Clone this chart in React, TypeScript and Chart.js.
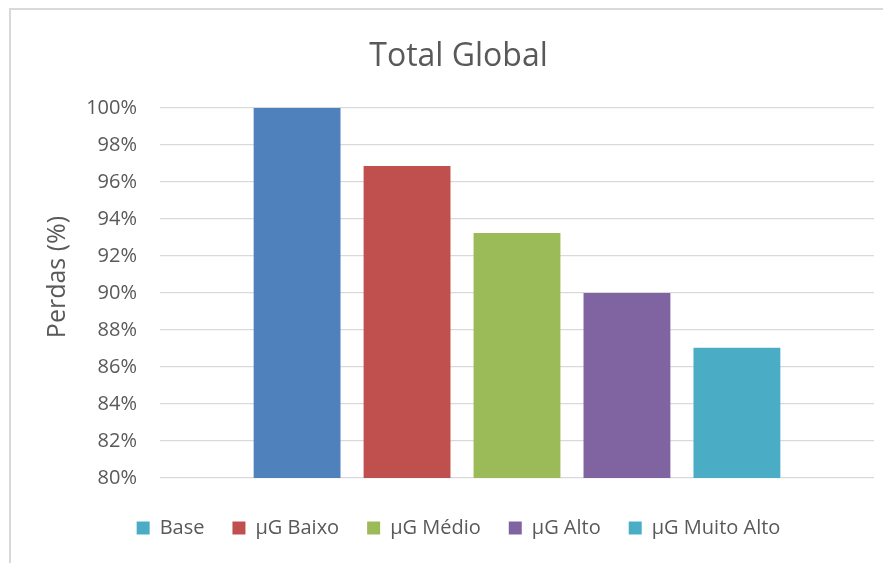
import React, { useEffect, useRef } from "react";
import { Chart, registerables } from "chart.js";

Chart.register(...registerables);

const categories = [""];
const seriesNames = ["Base", "µG Baixo", "µG Médio", "µG Alto", "µG Muito Alto"];
const seriesValues = [100, 96.86, 93.24, 90.0, 87.04];
const barColors = ["#4F81BD", "#C0504D", "#9BBB59", "#8064A2", "#4BACC6"];
const legendColors = ["#4BACC6", "#C0504D", "#9BBB59", "#8064A2", "#4BACC6"];
const yMin = 80;
const yMax = 100;
const yStep = 2;
const yTitle = "Perdas (%)";

const FONT = "'Open Sans', sans-serif";
const TEXT = "#595959";

const yTitlePlugin = {
  id: "yTitlePlugin",
  afterDraw(chart: any) {
    const { ctx, chartArea, scales } = chart;
    ctx.save();
    ctx.translate(scales.y.left + 15, (chartArea.top + chartArea.bottom) / 2 - 16);
    ctx.rotate(-Math.PI / 2);
    ctx.textAlign = "center";
    ctx.textBaseline = "middle";
    ctx.font = `25px ${FONT}`;
    ctx.fillStyle = TEXT;
    ctx.fillText(yTitle, 0, 0);
    ctx.restore();
  },
};

export default function App() {
  const ref = useRef<HTMLCanvasElement | null>(null);

  useEffect(() => {
    if (!ref.current) return;
    const chart = new Chart(ref.current, {
      type: "bar",
      data: {
        labels: categories,
        datasets: seriesNames.map((name, i) => ({
          label: name,
          data: [seriesValues[i]],
          backgroundColor: barColors[i],
          borderWidth: 0,
          categoryPercentage: 0.77,
          barPercentage: 0.79,
        })),
      },
      plugins: [yTitlePlugin],
      options: {
        animation: false,
        responsive: false,
        maintainAspectRatio: false,
        layout: { padding: { left: 43, right: 17, top: 0, bottom: 15 } },
        plugins: {
          title: {
            display: true,
            text: "Total Global",
            color: TEXT,
            font: { family: FONT, size: 32, weight: "normal" },
            padding: { top: 38, bottom: 31.6 },
          },
          legend: {
            position: "bottom",
            labels: {
              boxWidth: 13,
              boxHeight: 13,
              padding: 28,
              color: TEXT,
              font: { family: FONT, size: 20 },
              generateLabels: () =>
                seriesNames.map((name, i) => ({
                  text: name,
                  fillStyle: legendColors[i],
                  strokeStyle: legendColors[i],
                  lineWidth: 0,
                  fontColor: TEXT,
                  hidden: false,
                  datasetIndex: i,
                })),
            },
          },
          tooltip: { enabled: false },
        },
        scales: {
          x: {
            grid: { display: false, drawTicks: false },
            border: { display: false },
            ticks: { display: false },
            afterFit: (scale: any) => {
              scale.height = 12;
            },
          },
          y: {
            min: yMin,
            max: yMax,
            grid: { color: "#d9d9d9", lineWidth: 1.3, drawTicks: false },
            border: { display: false },
            ticks: {
              stepSize: yStep,
              padding: 23,
              color: TEXT,
              font: { family: FONT, size: 20 },
              callback: (v: any) => `${Math.round(Number(v))}%`,
            },
            title: { display: false },
            afterFit: (scale: any) => {
              scale.width = 117;
            },
          },
        },
      },
    });
    return () => chart.destroy();
  }, []);

  return (
    <div style={{ position: "relative", width: 883, height: 555, overflow: "hidden" }}>
      <div
        style={{
          position: "absolute",
          left: 1,
          top: 0,
          width: 1000,
          height: 1000,
          border: "2px solid #d9d9d9",
          boxSizing: "border-box",
        }}
      />
      <canvas
        ref={ref}
        width={891}
        height={563}
        style={{ position: "absolute", left: -8, top: -8, width: 891, height: 563 }}
      />
    </div>
  );
}
